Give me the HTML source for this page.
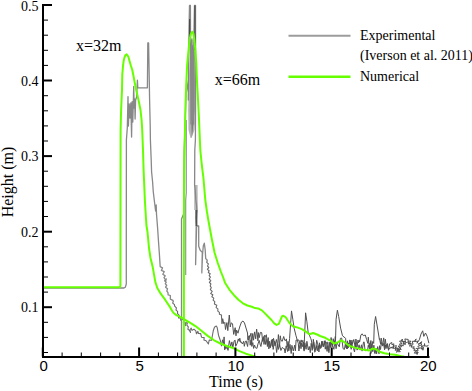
<!DOCTYPE html>
<html><head><meta charset="utf-8"><style>
html,body{margin:0;padding:0;background:#fff;width:472px;height:391px;overflow:hidden;}
.w{position:relative;width:472px;height:391px;}
svg{position:absolute;left:0;top:0;}
.t{position:absolute;white-space:nowrap;line-height:1;color:#000;}
.s{font-family:"Liberation Serif",serif;}
.a{font-family:"Liberation Sans",sans-serif;}
</style></head><body><div class="w">
<svg width="472" height="391" viewBox="0 0 472 391"><rect width="472" height="391" fill="#fff"/><polyline points="186.3,120 186.3,193 185.7,200 185.7,275" fill="none" stroke="#9a92a8" stroke-width="1.2"/><polygon points="194.2,185 197.6,185 197.8,210 194.2,210" fill="#b8b8b8"/><polygon points="191.3,38 190.6,45 189.8,60 189,75 188.5,90 188.2,110 188.5,130 190.5,138 191.5,138 194.5,130 195.9,110 196,80 195.2,60 194.3,45 192.5,38" fill="#b4b4b4"/><polygon points="191.8,45 191.2,70 191.2,100 191.4,125 191.8,138 192.8,130 194.5,110 194.5,80 193.8,60 192.7,45" fill="#7c7c7c"/><polyline points="221.5,346.2 222.5,339.8 223.5,343.6 224.1,336.9 224.7,349.9 225.3,345.6 225.9,348.9 226.8,345.6 228.0,350.4 229.4,340.6 230.7,346.5 231.9,341.9 232.8,347.5 234.2,340.8 235.1,340.1 235.7,346.3 237.0,343.7 238.3,338.9 239.2,341.4 239.8,338.2 240.6,342.3 241.3,341.9 242.4,344.0 243.7,341.3 244.3,346.3 245.2,342.3 246.1,340.8 247.6,346.5 248.2,340.6 249.6,335.6 250.2,345.2 251.0,339.9 251.8,346.4 252.8,342.6 253.6,348.4 254.6,345.1 255.4,347.7 256.9,348.4 258.0,343.9 259.2,340.4 260.3,345.1 260.9,346.5 262.3,339.3 263.2,337.7 264.5,335.3 265.7,344.5 266.8,339.5 268.0,343.2 269.1,344.6 269.6,341.3 270.3,347.8 271.1,343.9 272.3,339.0 273.2,349.4 274.4,341.3 275.8,344.6 276.6,352.5 277.8,344.4 278.5,349.4 279.6,344.8 280.9,350.5 282.3,347.4 283.4,348.4 284.3,348.6 285.1,353.0 286.2,345.8 287.6,351.5 288.2,344.5 288.8,350.9 290.0,344.4 291.2,353.5 291.9,345.3 293.3,351.0 294.7,345.1 295.4,350.9 296.1,340.0 297.6,340.1 299.0,340.1 299.9,343.9 301.2,339.9 301.9,342.6 302.9,340.3 304.1,351.1 304.8,342.7 306.1,349.3 306.9,341.3 308.3,350.0 309.3,346.5 310.3,352.7 311.2,343.3 312.2,350.4 313.7,342.1 314.7,352.2 315.6,351.3 316.8,345.4 317.5,350.7 318.3,345.9 318.9,352.0 319.6,344.7 320.6,348.5 321.8,341.4 323.1,346.6 324.4,343.9 325.1,340.6 325.8,344.0 327.1,351.4 327.7,345.6 328.9,352.7 329.5,348.5 330.2,344.4 330.8,347.5 331.4,342.3 332.9,346.5 333.9,349.3 334.9,340.6 336.1,348.7 337.0,342.9 338.0,344.6 339.3,346.8 340.4,338.3 341.7,338.1 343.1,348.7 344.4,349.4 345.7,342.0 346.6,348.8 347.4,340.8 348.2,347.9 349.7,339.9 351.0,347.8 351.7,342.1 352.4,346.6 353.5,348.4 354.5,352.0 355.6,343.6 357.1,350.1 358.2,348.4 359.1,344.8 360.2,350.1 361.5,344.8 362.1,351.1 363.5,342.1 364.1,341.9 365.1,350.8 366.3,350.3 367.6,350.3 368.3,345.2 368.9,347.2 370.0,342.9 371.0,353.4 371.7,344.5 372.8,351.7 373.9,345.2 374.6,353.2 375.1,353.7 376.0,348.0 376.6,353.8 377.7,346.6 379.0,353.8 379.6,345.7 380.5,349.5 381.4,342.5 382.6,346.1 383.5,343.5 384.6,349.8 385.4,345.1 386.0,348.6 387.2,343.9 388.0,348.7 390.0,348.7 391.1,346.9 392.2,348.4 393.4,346.0 393.5,348.5 396.3,347.7 395.1,350.3 397.6,349.7 396.5,352.3 397.2,351.7 400.3,351.7 398.1,349.4 401.3,349.4 399.3,347.2 401.5,346.8 400.9,344.8 403.2,346.0 403.2,343.4 405.4,344.5 405.1,341.5 406.5,342.5 408.8,341.6 408.4,344.0 410.7,343.0 409.6,346.2 412.1,345.1 411.2,347.2 414.3,346.8 412.9,348.8 415.2,348.8 413.9,350.8 416.5,350.7 414.2,353.1 417.6,352.6 417.1,354.5 415.9,353.1 418.3,352.5 416.1,350.7 418.4,350.1 416.3,348.4 419.7,348.3 417.8,346.2 419.8,345.7 418.2,343.8 420.9,343.5 421.7,341.7 419.5,343.4 421.9,344.0 420.6,345.5 422.1,346.4 420.5,347.9 423.3,348.5 423.1,350.2 421.0,348.4 423.9,348.0 421.5,346.1 424.8,345.8 424.5,343.6 424.4,345.9 425.6,346.0 427.5,346.2 428.3,344.9" fill="none" stroke="#505050" stroke-width="1" stroke-linejoin="round"/><polyline points="222.0,323.7 222.7,318.7 223.7,323.6 224.8,322.4 225.5,329.5 226.9,322.6 227.8,330.6 228.3,325.0 229.3,315.0 230.3,327.0 230.5,325.7 231.3,322.9 232.5,323.7 233.7,334.4 235.2,327.7 236.0,335.8 236.6,330.1 238.0,333.2 238.5,331.0 240.0,326.0 241.5,322.0 243.0,321.0 244.5,323.0 246.0,328.0 247.5,333.0 247.9,339.8 248.5,336.1 250.0,336.7 251.0,333.2 251.7,343.4 252.7,333.5 253.5,340.2 254.6,331.9 255.7,338.8 256.6,329.0 257.3,334.1 257.9,340.8 258.5,332.6 259.2,337.7 260.4,332.4 261.7,332.6 262.7,341.4 263.4,337.1 264.0,344.4 265.0,337.6 265.6,335.5 266.4,334.8 267.4,346.5 268.2,337.6 268.8,348.9 269.9,344.6 270.9,346.1 271.4,340.3 272.6,346.6 273.5,338.3 275.0,345.8 276.4,339.5 277.6,345.7 278.4,334.6 279.5,346.4 280.3,335.8 281.0,340.3 282.2,341.4 283.7,336.5 284.8,340.4 285.7,340.5 286.4,338.9 287.2,346.7 288.0,341.4 288.8,345.6 289.6,338.4 291.5,310.9 292.8,319.2 294.1,328.1 296.0,335.8 297.9,342.2 298.3,343.3 298.9,351.0 300.2,342.7 301.0,348.7 301.6,343.0 302.3,346.7 303.5,342.1 304.1,349.7 304.3,342.2 305.6,312.8 306.9,321.7 308.1,332.0 310.7,338.4 311.3,340.0 312.8,348.7 313.3,339.3 314.4,346.1 315.5,350.1 316.7,340.3 317.6,343.8 318.9,348.5 319.4,342.8 320.2,346.3 321.2,347.6 322.1,341.1 323.4,346.6 324.3,340.9 325.3,349.2 326.5,342.3 327.4,342.1 328.5,350.6 329.2,342.2 330.1,346.6 331.1,337.5 332.4,346.7 333.2,338.7 334.5,345.5 335.3,336.5 335.5,340.9 336.1,319.2 337.4,310.2 338.7,316.6 340.6,328.1 342.5,335.8 345.7,338.4 345.8,347.5 346.8,343.2 347.5,348.8 348.2,343.1 349.2,344.2 350.5,340.5 351.2,349.3 351.9,340.1 352.4,344.2 353.8,339.5 355.2,347.3 355.9,339.0 357.1,346.8 358.0,340.0 358.5,343.0 359.4,340.4 359.6,342.0 360.9,335.0 362.1,333.8 363.4,335.7 365.3,335.0 366.6,339.5 367.9,343.4 368.3,337.2 369.4,348.8 370.9,340.5 371.8,349.4 372.7,341.5 373.7,343.4 374.3,324.2 375.6,316.5 377.5,328.0 379.4,339.5 379.6,338.6 380.6,344.2 381.2,338.1 382.5,345.7 383.7,337.9 384.6,347.4 385.3,339.2 386.2,346.0 387.5,343.6 388.5,350.3 389.7,343.7 391.8,342.5 392.0,344.9 393.9,343.8 393.4,346.2 396.5,345.7 395.1,348.3 397.7,348.1 397.1,350.2 397.3,350.7 399.7,350.1 397.4,348.4 400.4,348.0 398.1,346.2 400.9,345.7 399.4,344.1 402.1,343.5 399.5,341.3 402.3,340.8 402.4,339.0 401.1,340.9 403.7,341.5 404.2,344.1 402.7,341.3 405.4,341.7 404.9,338.9 406.1,339.2 408.2,339.4 408.1,341.2 410.8,341.1 408.7,344.0 410.2,343.7 413.1,344.3 412.2,341.3 414.5,341.3 416.2,338.9 414.5,341.6 417.7,341.1 417.0,343.2 419.3,339.8 421.0,334.1 422.7,330.8 423.8,336.4 425.5,333.0 427.2,336.4 428.9,343.2" fill="none" stroke="#505050" stroke-width="1" stroke-linejoin="round"/><polyline points="43.0,288.0 124.0,288.0 125.3,287.2 126.3,284.0 126.3,243.0 126.4,140.0 127.3,128.0 128.0,96.6 128.4,126.0 129.2,104.0 130.0,118.0 130.8,103.0 131.6,137.0 132.1,101.7 132.8,122.0 133.7,86.5 134.2,108.0 134.7,99.2 135.1,119.0 135.6,100.0 136.6,97.0 137.4,80.2 137.8,87.8 147.4,87.8 147.8,42.8 148.6,43.0 149.3,82.0 149.6,100.0 150.2,125.0 150.4,140.0 151.2,160.0 151.6,172.0 152.6,182.0 153.3,192.0 154.5,202.0 155.6,211.0 156.2,205.0 156.5,214.0 157.6,228.0 158.4,240.0 159.5,255.7 160.2,266.7 162.5,267.9 161.4,270.4 164.2,271.7 162.8,274.2 165.2,275.9 164.0,277.7 165.2,279.3 165.6,281.4 166.3,278.9 164.6,280.7 166.2,282.2 165.3,283.9 166.7,285.3 165.6,287.2 167.5,288.8 166.8,291.1 168.0,292.7 168.1,294.8 170.4,295.5 170.3,299.1 173.4,300.6" fill="none" stroke="#888888" stroke-width="1.3" stroke-linejoin="round"/><polyline points="173.4,300.6 172.7,303.1 174.5,304.7 174.7,306.2 176.4,307.9 176.0,310.1 177.6,311.4 177.5,313.7 179.1,315.1 178.5,317.9 181.4,317.6 180.6,319.7 180.9,320.4 182.3,319.2 184.2,320.4 183.3,322.3 185.2,323.5 185.4,325.6 184.2,323.3 185.1,322.8 187.4,322.9 186.8,325.1 188.3,326.9 187.9,329.2 189.5,330.4 190.5,332.4 190.0,329.8 191.2,328.1 192.0,330.4 193.9,329.2 195.8,330.8 196.5,333.8 197.9,331.4 198.5,333.5 200.7,333.6 201.5,337.2 204.2,337.6 203.9,340.0 206.1,340.8 208.4,344.0 209.2,340.1 211.5,340.3 212.5,335.0 213.4,330.2 214.4,327.5 215.3,326.4 216.3,326.0 217.2,327.6 218.5,335.2 220.5,341.0 221.5,346.2" fill="none" stroke="#6a6a6a" stroke-width="1.1" stroke-linejoin="round"/><polyline points="181.5,358.0 181.5,219.0 183.6,214.0 183.9,180.0 184.2,150.0 185.2,120.0 186.0,95.0 188.4,80.0 188.3,100.0 189.0,30.0 189.5,5.4 190.4,5.4 190.6,60.0 191.0,124.0 191.6,40.0 192.2,120.0 192.8,50.0 193.4,124.0 194.0,30.0 194.5,5.4 195.5,5.4 195.6,100.0 195.4,140.0 194.8,150.0 194.6,185.0 195.2,190.0 195.8,200.0 196.5,205.0 196.8,210.0 196.2,218.0 196.6,226.0 195.6,264.7 196.2,226.0 198.7,226.0 198.7,246.3 200.2,250.3 202.3,252.4 201.8,272.9 202.5,255.0 203.3,246.0 204.3,243.2 205.2,250.0 205.7,258.6 207.4,260.3" fill="none" stroke="#888888" stroke-width="1.3" stroke-linejoin="round"/><polyline points="207.4,260.3 206.7,262.3 208.4,263.9 207.5,266.1 208.8,267.4 207.4,269.4 209.1,270.7 208.3,272.5 210.2,273.8 209.2,275.6 210.4,277.2 209.1,279.0 210.8,280.6 209.4,282.4 210.9,284.0 210.2,285.9 211.3,287.7 210.3,289.6 212.3,291.3 210.7,293.5 212.8,294.7 211.9,296.8 213.8,298.1 213.1,300.2 214.8,301.6 214.4,304.1 216.8,305.2 216.1,307.6 217.9,308.9 217.8,311.1 219.4,312.4 219.4,314.3 221.5,315.1 221.5,317.0 222.0,323.7" fill="none" stroke="#6a6a6a" stroke-width="1.1" stroke-linejoin="round"/><polygon points="195.3,210 197.5,210 197.3,226 195.5,226" fill="#505050"/><line x1="194.9" y1="5.6" x2="194.9" y2="50" stroke="#4a4a4a" stroke-width="1.2"/><line x1="189.6" y1="19" x2="189.6" y2="45" stroke="#4a4a4a" stroke-width="1.2"/><polyline points="43.0,287.3 119.6,287.3 120.4,286.0 120.5,200.0 120.6,130.0 121.1,110.0 122.0,90.0 122.3,74.0 122.6,71.3 123.0,66.0 123.6,61.3 124.3,58.0 125.3,55.3 126.6,54.3 128.3,56.6 129.6,61.3 131.0,66.0 132.3,70.0 133.5,76.0 134.6,82.0 136.2,90.0 138.5,100.0 140.5,110.0 141.6,120.0 142.2,130.0 143.0,150.0 143.6,170.0 144.9,200.7 146.4,225.0 147.5,232.0 149.0,248.0 150.5,258.0 152.6,266.4 155.4,282.3 157.3,288.0 160.7,293.7 165.1,299.7 170.2,307.4 172.2,311.0 173.6,313.0 176.4,315.1 180.5,317.1 185.6,320.2 190.7,323.2 195.8,326.3 201.4,330.8 207.7,335.9 214.1,340.3 220.4,343.5 226.8,346.0 233.1,348.0 239.5,351.1 245.8,353.7 252.2,355.6 256.0,357.0" fill="none" stroke="#66ff00" stroke-width="2" stroke-linejoin="round"/><polyline points="183.9,356.4 183.9,260.0 184.0,205.0 184.3,160.0 185.0,130.0 185.5,105.0 186.2,85.0 187.2,64.0 188.6,49.6 189.7,39.3 190.8,34.0 192.2,31.7 193.5,34.0 194.3,39.3 195.3,49.6 196.3,64.0 196.9,80.0 197.6,92.0 198.8,115.0 200.3,150.0 201.8,165.0 203.4,177.6 205.3,200.0 207.0,212.0 208.4,220.5 212.0,240.0 214.6,252.8 217.8,263.0 221.0,272.0 223.0,277.0 225.0,282.7 229.5,289.8 234.0,295.2 238.4,299.7 242.9,303.3 247.4,305.5 251.8,306.8 255.0,308.1 258.1,308.4 261.9,310.4 265.0,313.4 268.0,316.5 271.5,320.0 274.2,323.4 276.5,324.9 278.8,323.8 280.3,320.3 281.9,316.5 283.4,315.7 285.7,317.3 288.0,320.7 289.5,323.0 292.8,326.2 297.9,327.6 302.4,329.4 306.9,332.4 309.4,334.3 313.2,333.0 317.1,334.5 320.1,336.0 325.2,337.8 330.3,340.6 334.2,343.6 338.0,342.2 341.2,340.3 344.4,342.2 349.5,346.0 355.0,347.6 362.8,349.6 369.2,350.6 372.4,348.6 375.6,349.1 379.4,351.7 384.5,353.3 390.0,354.3 395.0,354.8 401.3,356.2 404.0,356.6" fill="none" stroke="#66ff00" stroke-width="2" stroke-linejoin="round"/><rect x="0" y="358" width="472" height="34" fill="#fff"/><rect x="42" y="4" width="2" height="354" fill="#000"/><rect x="42" y="356" width="387.5" height="2" fill="#000"/><rect x="43" y="4.0" width="9" height="2" fill="#000"/><rect x="43" y="19.6" width="5" height="1" fill="#000"/><rect x="43" y="34.7" width="5" height="1" fill="#000"/><rect x="43" y="49.8" width="5" height="1" fill="#000"/><rect x="43" y="64.9" width="5" height="1" fill="#000"/><rect x="43" y="79.5" width="9" height="2" fill="#000"/><rect x="43" y="95.2" width="5" height="1" fill="#000"/><rect x="43" y="110.3" width="5" height="1" fill="#000"/><rect x="43" y="125.4" width="5" height="1" fill="#000"/><rect x="43" y="140.5" width="5" height="1" fill="#000"/><rect x="43" y="155.1" width="9" height="2" fill="#000"/><rect x="43" y="170.7" width="5" height="1" fill="#000"/><rect x="43" y="185.8" width="5" height="1" fill="#000"/><rect x="43" y="200.9" width="5" height="1" fill="#000"/><rect x="43" y="216.0" width="5" height="1" fill="#000"/><rect x="43" y="230.7" width="9" height="2" fill="#000"/><rect x="43" y="246.3" width="5" height="1" fill="#000"/><rect x="43" y="261.4" width="5" height="1" fill="#000"/><rect x="43" y="276.5" width="5" height="1" fill="#000"/><rect x="43" y="291.6" width="5" height="1" fill="#000"/><rect x="43" y="306.2" width="9" height="2" fill="#000"/><rect x="43" y="321.8" width="5" height="1" fill="#000"/><rect x="43" y="336.9" width="5" height="1" fill="#000"/><rect x="43" y="352.0" width="5" height="1" fill="#000"/><rect x="41.8" y="347.5" width="2" height="9" fill="#000"/><rect x="61.6" y="352.5" width="1" height="4" fill="#000"/><rect x="80.8" y="352.5" width="1" height="4" fill="#000"/><rect x="100.1" y="352.5" width="1" height="4" fill="#000"/><rect x="119.3" y="352.5" width="1" height="4" fill="#000"/><rect x="138.1" y="347.5" width="2" height="9" fill="#000"/><rect x="157.9" y="352.5" width="1" height="4" fill="#000"/><rect x="177.1" y="352.5" width="1" height="4" fill="#000"/><rect x="196.4" y="352.5" width="1" height="4" fill="#000"/><rect x="215.6" y="352.5" width="1" height="4" fill="#000"/><rect x="234.4" y="347.5" width="2" height="9" fill="#000"/><rect x="254.2" y="352.5" width="1" height="4" fill="#000"/><rect x="273.4" y="352.5" width="1" height="4" fill="#000"/><rect x="292.7" y="352.5" width="1" height="4" fill="#000"/><rect x="311.9" y="352.5" width="1" height="4" fill="#000"/><rect x="330.7" y="347.5" width="2" height="9" fill="#000"/><rect x="350.5" y="352.5" width="1" height="4" fill="#000"/><rect x="369.7" y="352.5" width="1" height="4" fill="#000"/><rect x="389.0" y="352.5" width="1" height="4" fill="#000"/><rect x="408.2" y="352.5" width="1" height="4" fill="#000"/><rect x="427.0" y="347.5" width="2" height="9" fill="#000"/></svg>
<div class="t s" style="left:21px;top:-0.5px;font-size:14px">0.5</div>
<div class="t s" style="left:21px;top:75px;font-size:14px">0.4</div>
<div class="t s" style="left:21px;top:150px;font-size:14px">0.3</div>
<div class="t s" style="left:21px;top:226px;font-size:14px">0.2</div>
<div class="t s" style="left:21px;top:301px;font-size:14px">0.1</div>
<div class="t a" style="left:39.5px;top:358px;font-size:15px">0</div>
<div class="t a" style="left:135.5px;top:358px;font-size:15px">5</div>
<div class="t a" style="left:227.5px;top:358px;font-size:15px">10</div>
<div class="t a" style="left:323.5px;top:358px;font-size:15px">15</div>
<div class="t a" style="left:420px;top:358px;font-size:15px">20</div>
<div class="t s" style="left:209px;top:374px;font-size:16px">Time (s)</div>
<div class="t s" style="left:-27px;top:174px;font-size:16px;transform:rotate(-90deg);transform-origin:center">Height (m)</div>
<div class="t s" style="left:76px;top:38px;font-size:16px">x=32m</div>
<div class="t s" style="left:214.7px;top:71.6px;font-size:16px">x=66m</div>
<svg width="472" height="391" style="pointer-events:none"><line x1="288.5" y1="35.7" x2="350.5" y2="35.7" stroke="#9c9c9c" stroke-width="2"/><line x1="288.5" y1="76.8" x2="350.5" y2="76.8" stroke="#66ff00" stroke-width="2.4"/></svg>
<div class="t s" style="left:360px;top:29px;font-size:14px">Experimental</div>
<div class="t s" style="left:360px;top:49px;font-size:14px">(Iverson et al. 2011)</div>
<div class="t s" style="left:360px;top:70px;font-size:14px">Numerical</div>
</div></body></html>
